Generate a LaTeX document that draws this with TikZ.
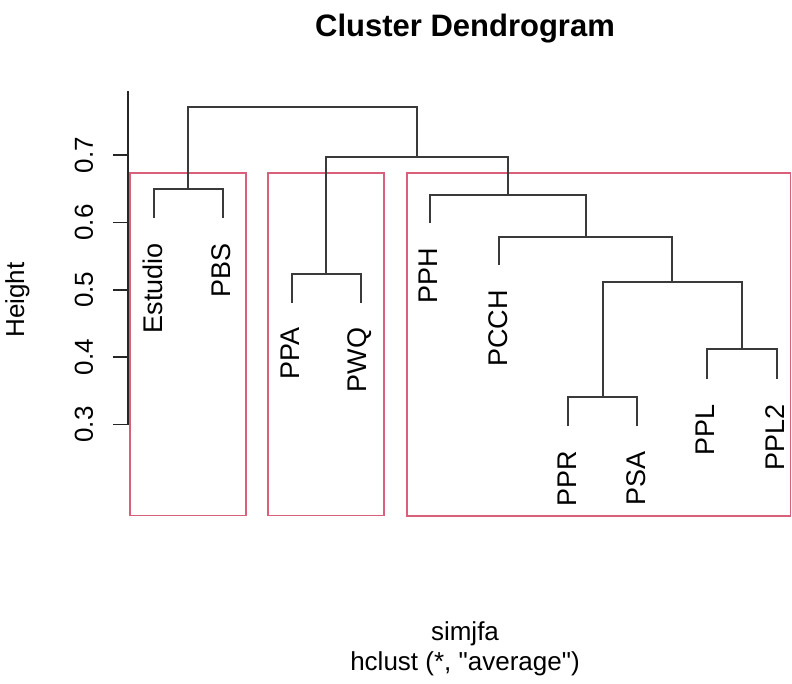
\documentclass[tikz,border=0pt]{standalone}
\usepackage{fontspec}
\setmainfont{Liberation Sans}
\newfontfamily\rawsans{Liberation Sans}
\definecolor{clusred}{HTML}{D9607A}
\definecolor{dline}{HTML}{3A3A3A}
\begin{document}
\begin{tikzpicture}[x=1pt,y=-1pt,
  base/.style={font=\fontsize{26}{30}\selectfont, inner sep=0pt},
  leaflab/.style={font=\fontsize{27}{31}\selectfont, inner sep=0pt, rotate=90, anchor=east},
  ticklab/.style={base, rotate=90, anchor=center},
  tree/.style={draw=dline, line width=1.8pt},
  axisline/.style={draw=black!85, line width=1.6pt},
  clbox/.style={draw=clusred, line width=1.6pt}]
\useasboundingbox (0,0) rectangle (792,683);
\fill[white] (0,0) rectangle (792,683);

% title and axis titles
\node[font=\fontsize{31}{36}\selectfont\bfseries, inner sep=0pt, anchor=base] (title) at (465,36) {Cluster Dendrogram};
\node[base, anchor=base] (xlab) at (465,640) {simjfa};
\node[base, anchor=base] (sub) at (465,670) {\rawsans hclust (*, "average")};
\node[base, rotate=90, anchor=center] (ylab) at (17.5,300) {Height};

% y axis
\coordinate (atop) at (128,91);
\coordinate (abot) at (128,424.5);
\draw[axisline] (atop) -- (abot);
\foreach \i/\v/\yy in {7/0.7/155,6/0.6/222.4,5/0.5/289.8,4/0.4/357.2,3/0.3/424.5}{
  \coordinate (tick\i) at (128,\yy);
  \coordinate (tickl\i) at (113,\yy);
  \draw[axisline] (tick\i) -- (tickl\i);
  \node[ticklab] (lab\i) at (84,\yy) {\v};
}

% cluster rectangles
\draw[clbox] (130,173) rectangle (245.7,515.5);
\draw[clbox] (268,173) rectangle (384,515.5);
\draw[clbox] (407,173) rectangle (790.5,516);

% leaf tips (x, bottom)
\coordinate (lEstudio) at (154,218);
\coordinate (lPBS) at (222.7,218);
\coordinate (lPPA) at (291.7,302.7);
\coordinate (lPWQ) at (361,302.7);
\coordinate (lPPH) at (430,223);
\coordinate (lPCCH) at (499.3,265);
\coordinate (lPPR) at (568.3,426);
\coordinate (lPSA) at (637.3,426);
\coordinate (lPPL) at (706.7,379.3);
\coordinate (lPPL2) at (776.7,379.3);

% merge points (center x, height y)
\coordinate (m1) at (188.35,189);    % Estudio-PBS
\coordinate (m2) at (326.35,274);    % PPA-PWQ
\coordinate (m3) at (602.8,397.3);   % PPR-PSA
\coordinate (m4) at (741.7,349.3);   % PPL-PPL2
\coordinate (m5) at (672.25,281.7);  % m3-m4
\coordinate (m6) at (585.8,237.3);   % PCCH-m5
\coordinate (m7) at (507.9,195);     % PPH-m6
\coordinate (m8) at (417.1,157);     % m2-m7
\coordinate (m9) at (302.7,106.7);   % m1-m8

% dendrogram branches
\draw[tree] (lEstudio) |- (m1) -| (lPBS);
\draw[tree] (lPPA) |- (m2) -| (lPWQ);
\draw[tree] (lPPR) |- (m3) -| (lPSA);
\draw[tree] (lPPL) |- (m4) -| (lPPL2);
\draw[tree] (m3) |- (m5) -| (m4);
\draw[tree] (lPCCH) |- (m6) -| (m5);
\draw[tree] (lPPH) |- (m7) -| (m6);
\draw[tree] (m2) |- (m8) -| (m7);
\draw[tree] (m1) |- (m9) -| (m8);

% leaf labels
\node[leaflab] (Estudio) at ([xshift=-1.5pt,yshift=-25pt]lEstudio) {Estudio};
\node[leaflab] (PBS) at ([xshift=-1.5pt,yshift=-25pt]lPBS) {PBS};
\node[leaflab] (PPA) at ([xshift=-1.5pt,yshift=-25pt]lPPA) {PPA};
\node[leaflab] (PWQ) at ([xshift=-1.5pt,yshift=-25pt]lPWQ) {PWQ};
\node[leaflab] (PPH) at ([xshift=-1.5pt,yshift=-25pt]lPPH) {PPH};
\node[leaflab] (PCCH) at ([xshift=-1.5pt,yshift=-25pt]lPCCH) {PCCH};
\node[leaflab] (PPR) at ([xshift=-1.5pt,yshift=-25pt]lPPR) {PPR};
\node[leaflab] (PSA) at ([xshift=-1.5pt,yshift=-25pt]lPSA) {PSA};
\node[leaflab] (PPL) at ([xshift=-1.5pt,yshift=-25pt]lPPL) {PPL};
\node[leaflab] (PPL2) at ([xshift=-1.5pt,yshift=-25pt]lPPL2) {PPL2};
\end{tikzpicture}
\end{document}
